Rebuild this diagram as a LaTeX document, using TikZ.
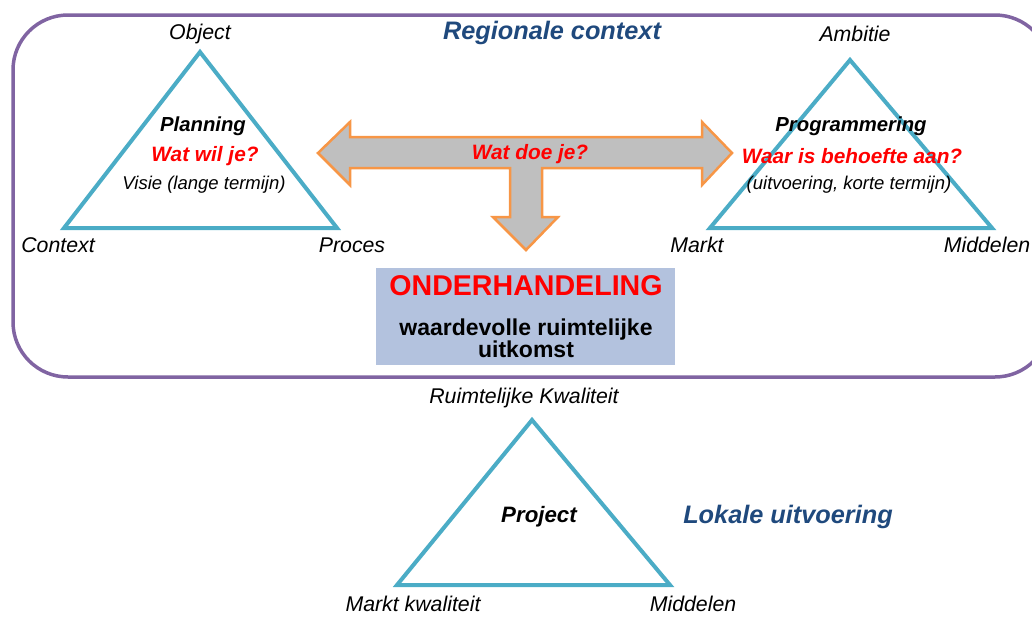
\documentclass[tikz,border=0pt]{standalone}
\usepackage{fontspec}
\setmainfont{Liberation Sans}
\definecolor{frame}{HTML}{8064A2}
\definecolor{tri}{HTML}{4BACC6}
\definecolor{arrfill}{HTML}{BFBFBF}
\definecolor{arrline}{HTML}{F79646}
\definecolor{titleblue}{HTML}{1F497D}
\definecolor{boxfill}{HTML}{B3C2DE}
\tikzset{
  trianglepath/.style={draw=tri, line width=4pt, line join=miter},
  vertexlabel/.style={font=\fontsize{21.3}{24}\selectfont\itshape, inner sep=0pt},
  heading/.style={font=\fontsize{20.3}{24}\selectfont\bfseries\itshape, inner sep=0pt},
  question/.style={font=\fontsize{20.8}{24}\selectfont\bfseries\itshape, text=red, inner sep=0pt},
  smalltext/.style={font=\fontsize{18.5}{22}\selectfont\itshape, inner sep=0pt},
  titletext/.style={font=\fontsize{25.3}{30}\selectfont\bfseries\itshape, text=titleblue, inner sep=0pt},
}
\begin{document}
\begin{tikzpicture}[x=1pt,y=-1pt]
\useasboundingbox (0,0) rectangle (1032,616);
% regional frame
\draw[frame, line width=3.5pt, rounded corners=55pt] (13,15) rectangle (1050,377);
\node[titletext] (regio) at (552,33) {Regionale context};

% left triangle
\coordinate (pa) at (200,52);
\coordinate (pb) at (64,228);
\coordinate (pc) at (337,228);
\draw[trianglepath] (pa) -- (pb) -- (pc) -- cycle;
\node[vertexlabel] (object) at (200,34) {Object};
\node[vertexlabel] (context) at (58,245) {Context};
\node[vertexlabel] (proces) at (352,245) {Proces};
\node[heading] (planning) at (203,126) {Planning};
\node[question] (watwil) at (205,156) {Wat wil je?};
\node[smalltext] (visie) at (204,185) {Visie (lange termijn)};

% right triangle
\coordinate (ra) at (850,60);
\coordinate (rb) at (710,228);
\coordinate (rc) at (992,228);
\draw[trianglepath] (ra) -- (rb) -- (rc) -- cycle;
\node[vertexlabel] (ambitie) at (855,34) {Ambitie};
\node[vertexlabel] (markt) at (697,245) {Markt};
\node[vertexlabel] (middelen1) at (987,245) {Middelen};

% arrow
\draw[draw=arrline, fill=arrfill, line width=2.5pt, line join=miter]
  (318,153) -- (350,122) -- (350,137) -- (702,137) -- (702,122) -- (732,153)
  -- (702,185) -- (702,168) -- (542,168) -- (542,217) -- (558,217) -- (526,250)
  -- (493,217) -- (510,217) -- (510,168) -- (350,168) -- (350,185) -- cycle;
\node[question] (watdoe) at (530,154) {Wat doe je?};

\node[heading] (programmering) at (851,126) {Programmering};
\node[question] (waaris) at (852,156) {Waar is behoefte aan?};
\node[smalltext] (uitvoering) at (849,185) {(uitvoering, korte termijn)};

% negotiation box
\node[fill=boxfill, minimum width=299pt, minimum height=97pt, inner sep=0pt] (box) at (525.5,316.5) {};
\node[font=\fontsize{28.6}{32}\selectfont\bfseries, text=red, inner sep=0pt] (onder) at (526,286) {ONDERHANDELING};
\node[font=\fontsize{23}{23}\selectfont\bfseries, inner sep=0pt, align=center] (waarde) at (526,338) {waardevolle ruimtelijke\\[-1pt]uitkomst};

% bottom triangle
\coordinate (qa) at (532,420);
\coordinate (qb) at (397,585);
\coordinate (qc) at (670,585);
\draw[trianglepath] (qa) -- (qb) -- (qc) -- cycle;
\node[vertexlabel] (ruimtelijk) at (524,398) {Ruimtelijke Kwaliteit};
\node[font=\fontsize{22.3}{26}\selectfont\bfseries\itshape, inner sep=0pt] (project) at (539,517) {Project};
\node[titletext] (lokaal) at (788,517) {Lokale uitvoering};
\node[vertexlabel] (marktk) at (413,604) {Markt kwaliteit};
\node[vertexlabel] (middelen2) at (693,604) {Middelen};
\end{tikzpicture}
\end{document}
